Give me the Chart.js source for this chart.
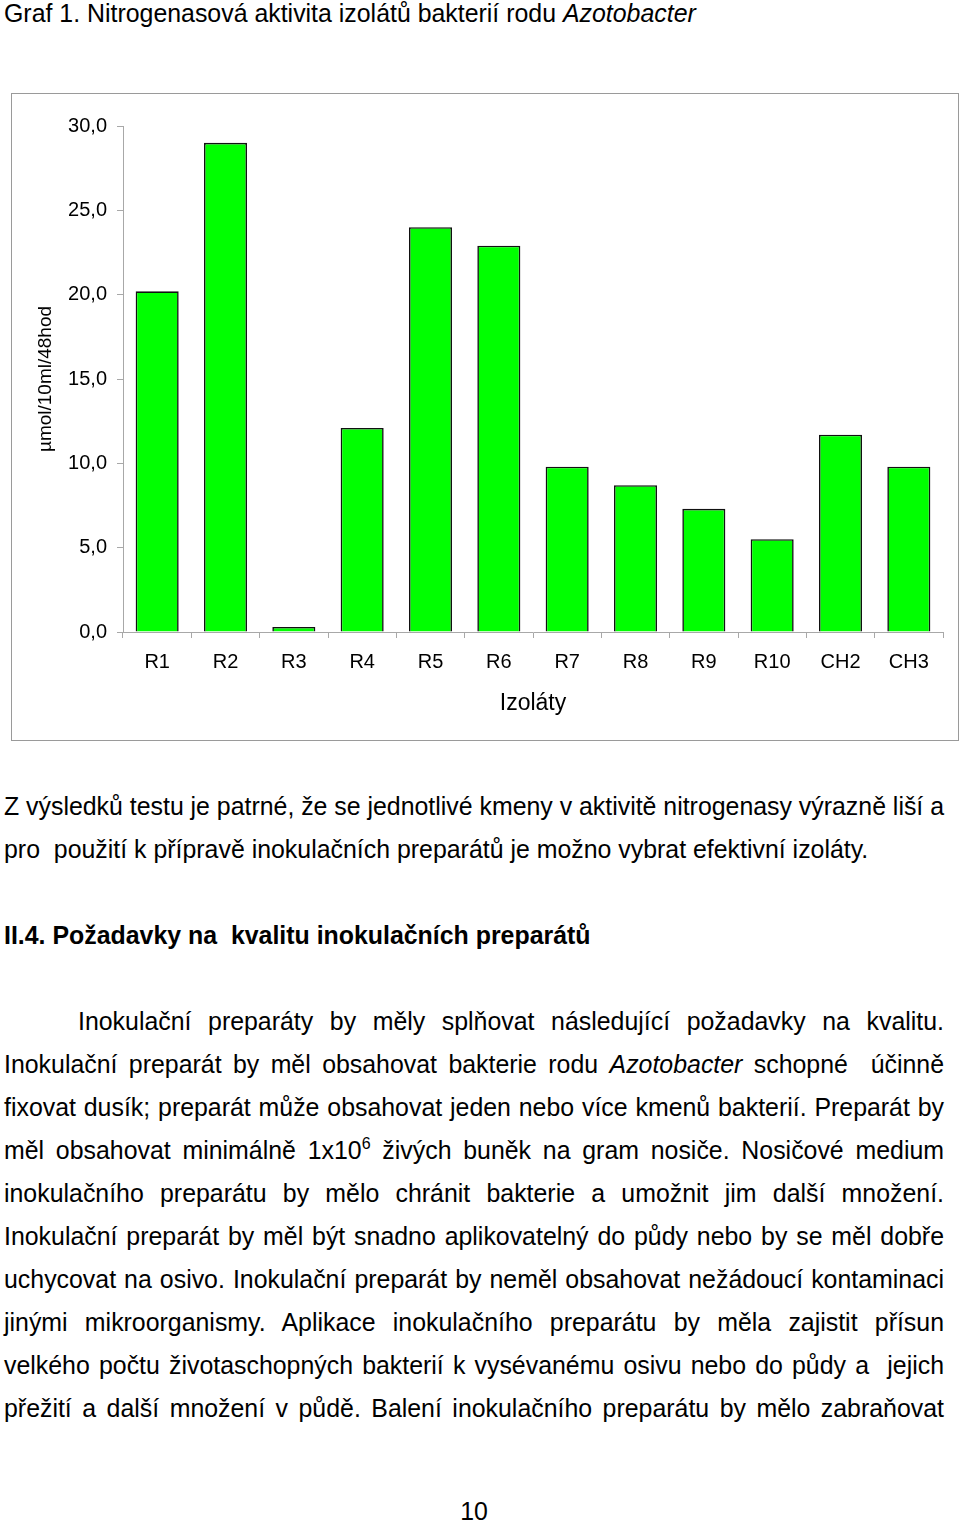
<!DOCTYPE html>
<html lang="cs">
<head>
<meta charset="utf-8">
<title>Graf 1. Nitrogenasová aktivita izolátů bakterií rodu Azotobacter</title>
<script src="https://cdn.jsdelivr.net/npm/chart.js@4/dist/chart.umd.min.js"></script>
<style>
    html, body { margin: 0; padding: 0; background: #fff; }
    body { width: 960px; height: 1522px; position: relative; overflow: hidden;
           font-family: "Liberation Sans", Arial, sans-serif; font-size: 24.9px; color: #000; }
    .line { position: absolute; left: 4px; width: 940px; height: 43px; line-height: 43px; white-space: nowrap; }
    .just { text-align: justify; text-align-last: justify; white-space: normal; }
    .frame { position: absolute; left: 11px; top: 93px; width: 948px; height: 648px;
             border: 1px solid #9a9a9a; box-sizing: border-box; }
    .chartBox { position: absolute; left: 0; top: 93px; width: 960px; height: 650px; }
    sup { font-size: 16px; line-height: 0; vertical-align: 10px; }
</style>
</head>
<body>

<div class="line" style="top:-8px;">Graf 1. Nitrogenasová aktivita izolátů bakterií rodu <i>Azotobacter</i></div>

<div class="frame"></div>
<div class="chartBox"><canvas id="chart"></canvas></div>

<div class="line just" style="top:785px; word-spacing:-3px;">Z výsledků testu je patrné, že se jednotlivé kmeny v aktivitě nitrogenasy výrazně liší a</div>
<div class="line" style="top:828px;">pro&nbsp; použití k přípravě inokulačních preparátů je možno vybrat efektivní izoláty.</div>

<div class="line" style="top:914px; font-weight:bold;">II.4. Požadavky na&nbsp; kvalitu inokulačních preparátů</div>

<div class="line just" style="top:1000px; left:78px; width:866px;">Inokulační preparáty by měly splňovat následující požadavky na kvalitu.</div>
<div class="line just" style="top:1043px;">Inokulační preparát by měl obsahovat bakterie rodu <i>Azotobacter</i> schopné&nbsp; účinně</div>
<div class="line just" style="top:1086px;">fixovat dusík; preparát může obsahovat jeden nebo více kmenů bakterií. Preparát by</div>
<div class="line just" style="top:1129px;">měl obsahovat minimálně 1x10<sup>6</sup> živých buněk na gram nosiče. Nosičové medium</div>
<div class="line just" style="top:1172px;">inokulačního preparátu by mělo chránit bakterie a umožnit jim další množení.</div>
<div class="line just" style="top:1215px;">Inokulační preparát by měl být snadno aplikovatelný do půdy nebo by se měl dobře</div>
<div class="line just" style="top:1258px;">uchycovat na osivo. Inokulační preparát by neměl obsahovat nežádoucí kontaminaci</div>
<div class="line just" style="top:1301px;">jinými mikroorganismy. Aplikace inokulačního preparátu by měla zajistit přísun</div>
<div class="line just" style="top:1344px;">velkého počtu životaschopných bakterií k vysévanému osivu nebo do půdy a&nbsp; jejich</div>
<div class="line just" style="top:1387px;">přežití a další množení v půdě. Balení inokulačního preparátu by mělo zabraňovat</div>

<div class="line" style="top:1490px; text-align:center; left:0; width:948px;">10</div>

<script>
// ========== data ==========
var isolates = ["R1", "R2", "R3", "R4", "R5", "R6", "R7", "R8", "R9", "R10", "CH2", "CH3"];
var activity = [20.2, 29.0, 0.3, 12.1, 24.0, 22.9, 9.8, 8.7, 7.3, 5.5, 11.7, 9.8];
var yTicks = [0, 5, 10, 15, 20, 25, 30];
var yTitle = "µmol/10ml/48hod";
var xTitle = "Izoláty";

// ========== styl ==========
var fontFamily = '"Liberation Sans", Arial, sans-serif';
var axisGray = '#a8a8a8';

function formatTick(v) {
    return v.toFixed(1).replace('.', ',');
}

// ========== graf ==========
var ctx = document.getElementById('chart').getContext('2d');
new Chart(ctx, {
    type: 'bar',
    data: {
        labels: isolates,
        datasets: [{
            label: xTitle,
            data: activity,
            backgroundColor: '#00ff00',
            borderColor: '#111',
            borderWidth: 1.6,
            borderSkipped: 'start',
            categoryPercentage: 1.0,
            barPercentage: 0.63
        }]
    },
    options: {
        responsive: true,
        maintainAspectRatio: false,
        animation: false,
        layout: { padding: { top: 33, right: 17, bottom: 0, left: 0 } },
        plugins: {
            legend: { display: false },
            tooltip: { enabled: false }
        },
        scales: {
            x: {
                grid: { display: true, drawOnChartArea: false, drawTicks: true, tickLength: 6, color: axisGray, offset: true },
                border: { display: true, color: axisGray, width: 1 },
                ticks: { color: '#000', padding: 12, maxRotation: 0, font: { family: fontFamily, size: 20 } },
                title: { display: true, text: xTitle, color: '#000', padding: { top: 0, bottom: 26 },
                         font: { family: fontFamily, size: 23 } },
                afterFit: function(scale) { scale.height = 111; }
            },
            y: {
                min: 0,
                max: 30,
                afterBuildTicks: function(scale) {
                    scale.ticks = yTicks.map(function(v) { return { value: v }; });
                },
                grid: { display: true, drawOnChartArea: false, drawTicks: true, tickLength: 6, color: axisGray },
                border: { display: true, color: axisGray, width: 1 },
                ticks: { color: '#000', padding: 10, callback: function(v) { return formatTick(v); },
                         font: { family: fontFamily, size: 20 } },
                title: { display: true, text: yTitle, color: '#000', padding: { top: 34, bottom: 0 },
                         font: { family: fontFamily, size: 19 } },
                afterFit: function(scale) { scale.width = 123; }
            }
        }
    }
});
</script>
</body>
</html>
